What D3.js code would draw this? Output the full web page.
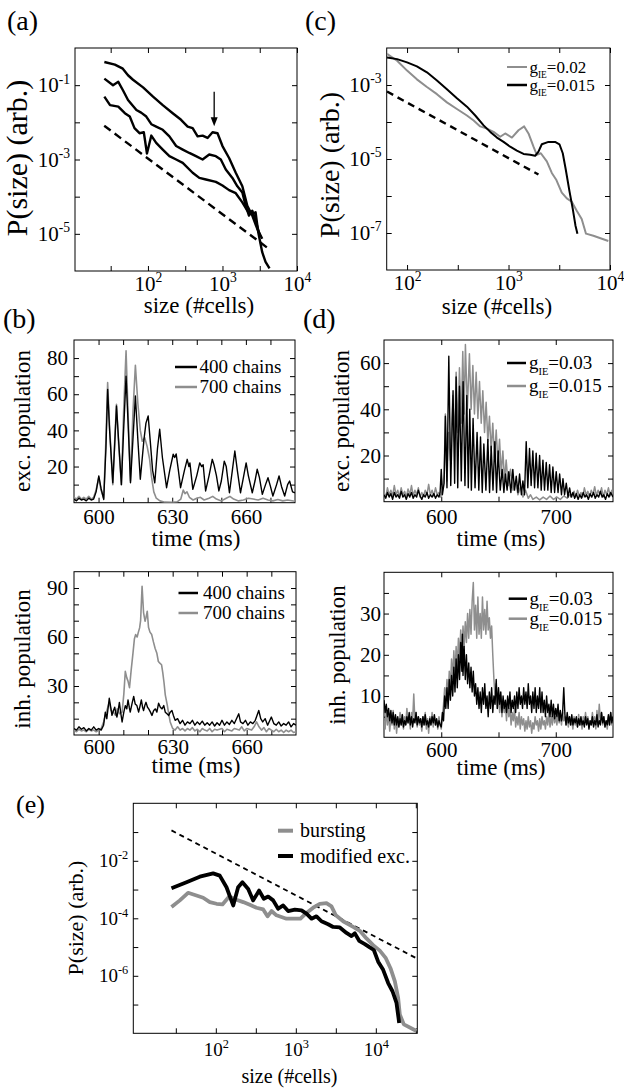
<!DOCTYPE html>
<html>
<head>
<meta charset="utf-8">
<script src="https://cdn.jsdelivr.net/npm/d3@7"></script>
<style>
  body { margin: 0; background: #fff; }
  svg { display: block; }
  svg text { font-family: "Liberation Serif", "Times New Roman", "DejaVu Serif", serif; }
</style>
</head>
<body>
<div id="fig"></div>
<script>
// ---------- data ----------
// (a) avalanche size distributions, [size, P]
var aTop = [[26,0.42],[36,0.356],[46,0.278],[54,0.185],[63,0.14],[86,0.087],[117,0.049],[158,0.029],[215,0.0176],[278,0.0117],[341,0.0077],[398,0.007],[464,0.0042],[541,0.0044],[631,0.0038],[736,0.0054],[858,0.0051],[1000,0.0023],[1227,0.0011],[1507,4.4e-4],[1848,1.9e-4],[2154,5.7e-5],[2512,3.1e-5],[2929,1.36e-5],[3415,7.4e-6]];
var aMid = [[26,0.15],[34,0.1],[40,0.123],[46,0.074],[54,0.04],[70,0.0215],[81,0.0183],[95,0.0143],[111,0.0089],[129,0.0077],[158,0.0063],[194,0.0042],[239,0.0023],[293,0.00185],[359,0.0015],[441,0.00123],[541,0.001],[664,0.00136],[815,0.00123],[950,0.001],[1108,5.4e-4],[1359,3.2e-4],[1585,1.9e-4],[1848,1.3e-4],[2047,5.7e-5],[2268,3.1e-5],[2512,4.2e-5],[2783,2.3e-5],[3083,1.1e-5],[3243,8.1e-6]];
var aBot = [[26,0.049],[31,0.029],[40,0.0264],[49,0.0176],[57,0.0143],[66,0.007],[77,0.0051],[88,0.0054],[97,0.00145],[111,0.0044],[129,0.0028],[158,0.00185],[194,0.00123],[239,0.001],[293,8.1e-4],[398,4.4e-4],[489,3.2e-4],[600,2.9e-4],[815,2.5e-4],[1000,2.0e-4],[1227,1.5e-4],[1507,1.24e-4],[1848,7e-5],[2154,4.2e-5],[2460,3.4e-5],[2783,3.8e-5],[3020,1.1e-5],[3415,3.2e-6],[3784,1.75e-6],[4276,1.17e-6]];
var aFit = [[25.9,8.07e-3],[4276,3.82e-6]];
var aArrow = [[774,0.066],[774,0.0078]];

// (c) g_IE comparison
var cG02 = [[63.5,6.95e-3],[79.8,4.53e-3],[100,2.45e-3],[125,1.42e-3],[157,8.85e-4],[197,5.65e-4],[247,3.39e-4],[310,2.25e-4],[389,1.5e-4],[453,1.1e-4],[526,7.6e-5],[612,6.6e-5],[712,5.4e-5],[828,4.0e-5],[927,4.9e-5],[1079,3.8e-5],[1254,6.0e-5],[1426,7.6e-5],[1573,4.9e-5],[1762,2.15e-5],[1900,1.3e-5],[2081,1.43e-5],[2384,8.6e-6],[2670,4.2e-6],[2942,2.8e-6],[3347,1.24e-6],[3752,8.6e-7],[4200,7e-7],[4700,4.0e-7],[5260,2.4e-7],[5800,9.6e-8],[6860,8.4e-8],[9630,6.1e-8]];
var cG015 = [[63.5,5.56e-3],[79.8,5.0e-3],[100,4.09e-3],[125,3.2e-3],[157,2.2e-3],[197,1.33e-3],[247,7.7e-4],[310,4.4e-4],[389,2.6e-4],[470,1.5e-4],[568,8.1e-5],[661,5.4e-5],[768,3.8e-5],[893,2.9e-5],[1038,2.15e-5],[1208,1.69e-5],[1406,1.37e-5],[1634,1.3e-5],[1830,1.22e-5],[1972,1.58e-5],[2128,2.5e-5],[2473,2.9e-5],[2876,2.9e-5],[3176,2.5e-5],[3423,1.43e-5],[3664,5.2e-6],[3981,1.37e-6],[4295,4.5e-7],[4564,1.6e-7],[4776,9.6e-8]];
var cFit = [[63.5,6.65e-4],[1972,3.8e-6]];

// (b) population activity, [time ms, count]
var bExc400 = [[590,2],[591,1],[592,2.5],[593,1.5],[594,2],[595,1],[596,2.5],[597,1.5],[598,2],[599,6],[600.1,14.8],[601,8],[602.1,1.8],[603,30],[603.7,62.7],[604.5,40],[605.8,11],[606.5,30],[607.3,53.5],[608,38],[609.3,10],[610.2,40],[611.2,70],[612,45],[613,11],[614,35],[615,59],[616,35],[617,13],[618.5,35],[619.3,44],[620.2,48],[621,35],[622,18],[622.9,11],[624,30],[624.9,40.6],[626,25],[627.7,8.3],[629,18],[630.4,26.8],[631,25],[631.6,27],[632.5,18],[633.4,8.3],[635,18],[636.1,24],[636.8,20],[637.2,22],[638.4,7.4],[640,15],[641.2,22],[642,20],[642.6,21],[643.6,6.5],[645,15],[646.3,24],[647,21],[648,15],[649,6.5],[650,12],[651.2,23],[652,20],[653.3,5.5],[654.5,18],[655.5,28.6],[656.5,18],[657.8,5.5],[659,14],[660.1,22],[661,15],[662.6,5.5],[663.7,12],[664.6,18.5],[665.5,14],[666.7,4.6],[668,10],[669,13.8],[670,9],[671,3.7],[672.5,10],[673.5,14.8],[674.5,9],[675.8,3.7],[677,10],[677.8,12],[679,6],[680,5.5]];
var bExc700 = [[590,3],[591,2],[592,3.5],[593,2],[594,3],[595,2],[596,3.5],[597,2],[598,3],[599,7],[600.1,13.8],[601,7],[602.1,2.5],[603,35],[603.7,66.4],[604.5,42],[605.8,10],[606.5,32],[607.3,54.4],[608,36],[609.3,10],[610.2,50],[611.2,84],[612,50],[613,12],[614,50],[615,76],[616,55],[617,40],[617.8,34],[618.8,36],[619.8,31],[620.8,24],[621.6,14],[622.5,6],[623.5,2.5],[625,1],[627,0.3],[630,0.2],[632,0.5],[633.5,2],[634.5,7],[635.2,5],[636,6],[637,3],[638.5,1.5],[640,2.5],[641.5,3],[643,1.5],[645,2.5],[646.5,3.5],[648,2],[650,1],[652,2.5],[653.5,3.5],[655,2],[657,1],[659,1.5],[661,2.5],[663,2],[665,1.5],[667,2.5],[669,1.5],[671,1],[673,1.8],[675,1],[677,1.5],[680,0.8]];
var bInh400 = [[590,4],[591,3],[592,5],[593,3.5],[594,4.5],[595,2.5],[596,4],[597,3],[598,5],[599,3],[600,4],[601,3],[602,6],[602.7,14],[603.3,10],[604.3,22.5],[605,16],[605.4,12],[606,15],[606.5,17],[607,13],[607.4,11],[608,16],[608.4,20],[609,13],[609.5,8],[610.2,14],[610.8,18],[611.4,16],[611.9,21.5],[612.4,17],[612.8,14],[613.5,19],[614.2,23.6],[614.8,19],[615.5,18],[616.2,14],[616.8,18],[617.3,21.5],[617.8,17],[618.2,15],[618.7,18],[619.2,20],[619.8,17],[620.3,16],[621,14],[621.6,12],[622.3,15],[623,16],[623.6,14],[624.3,19.5],[625,17],[625.7,16],[626.4,18],[627,14],[627.7,13],[628.4,12],[629,14],[629.7,15],[630.3,12],[631,9],[632,10],[633,7],[634,9],[635,6],[636,8],[637,7],[638,9],[639,6],[640,8],[641,6.5],[642,8.5],[643,6],[644,7.5],[645,6],[646,8],[647,5.5],[648,7.5],[649,6],[650,9],[651,6],[652,8],[653,6.5],[654,9],[655,7],[656.8,13],[657.5,8],[658.5,7],[659.5,9],[660.5,6],[661.5,8],[662.5,7],[663.5,9],[664.9,15],[665.7,10],[666.5,8],[667.5,10],[668.5,6],[670,11],[671,7],[672,6],[673,8],[674,5.5],[675,7],[676,6],[677,8],[678,5],[679,7],[680,6]];
var bInh700 = [[590,3],[591,2],[592,3.5],[593,2.5],[594,3],[595,2],[596,3.5],[597,2.5],[598,3],[599,2],[600,3],[601,4],[602,8],[602.7,12],[603.5,16],[604.3,20],[605,15],[606,14],[606.8,12],[607.5,16],[608.5,13],[609.5,14],[610.2,25],[610.8,39],[611.4,35],[611.9,33],[612.5,29],[613.2,40],[613.9,50],[614.5,59],[615,61.5],[615.6,60],[616.1,63],[616.6,65.6],[617,70],[617.6,91],[618.2,75],[618.8,69.7],[619.2,72],[619.7,75.8],[620.2,66],[620.8,63],[621.5,61.5],[622.2,57],[622.9,53],[623.6,50],[624.2,45],[624.8,44],[625.5,43],[626,38],[626.5,32],[627,24.6],[627.8,18.4],[628.5,12],[629,8],[630,4],[631,3],[632,5],[633,3],[634,4],[635,2.5],[636,4],[637,3],[638,4.5],[639,2.5],[640,3.5],[641,2],[642,4],[643,3],[644,2.5],[645,4],[646,2],[647,3.5],[648,3],[650,4],[651,2],[652,3.5],[654,2.5],[655,4],[657,3],[658,5],[659,2.5],[660,4],[662,3],[663,5],[664,8],[665,5],[666,3],[667,4.5],[668,2],[669,4],[670,3],[671,2],[672,3.5],[673,2],[674,3],[675,1.5],[676,3],[677,2],[678,3],[679,1.5],[680,2]];

// (d) population activity for two g_IE values
var dExc03 = [[550,3],[551.5,1.5],[553,4],[554.5,2],[556,3.5],[557.5,1],[559,4],[560.5,2],[562,3],[563.5,1.5],[565,4.5],[566.5,2],[568,3],[569.5,1],[571,3.5],[572.5,2],[574,4],[575.5,1.5],[577,3],[578.5,2],[580,5],[581.5,2.5],[583,1],[584.5,3],[586,2],[587.5,4],[589,1.5],[590.5,3],[592,2],[593.5,3.5],[595,1.5],[596.5,3],[598,2],[599,4],[600,14],[601,3],[602.5,8],[603.6,37],[605,6],[606.6,63],[608.3,7],[610.3,48],[611.7,8],[613,54],[614.4,6],[615.9,50],[617.5,9],[619.1,52],[620.7,7],[622.3,46],[623.6,6],[624.9,40],[626.3,5],[627.8,36],[629.5,6],[631.3,30],[632.8,5],[634.3,28],[635.8,4],[637.2,25],[639,5],[640.7,27],[642.2,4],[643.6,24],[645.2,5],[646.8,26],[648.3,4],[649.7,22],[651.5,5],[653.2,14],[654.7,4],[656.1,12],[657.5,5],[659,13],[660.8,4],[662.5,14],[664,5],[665.5,11],[667,4],[668.4,12],[670,3],[671.3,9],[672.7,3],[674.2,26],[675.6,6],[677.1,23],[678.5,7],[680,22],[681.5,6],[682.9,21],[684.4,6],[685.9,20],[687.3,5],[688.8,18],[690.2,5],[691.7,17],[693.1,5],[694.6,16],[696,4],[697.5,15],[699,4],[700.4,13],[702,4],[703.4,12],[705,3],[706.3,10],[707.7,3],[709.2,8],[710.7,2],[712.1,6],[713.5,2],[715,4],[716.5,1.5],[718,3.5],[719.5,1],[721,3],[722.5,1.5],[724,4],[725.5,2],[727,3],[728.5,1],[730,3.5],[731.5,2],[733,4],[734.5,1.5],[736,3],[737.5,2],[739,4.5],[740.5,2],[742,3],[743.5,1],[745,3.5],[746.5,2],[748,4],[750,2]];
var dExc015 = [[550,4],[551.5,2],[553,6],[554.5,3],[556,5],[557.5,2.5],[559,7],[560.5,3],[562,5],[563.5,2],[565,6],[566.5,3],[568,4.5],[569.5,2],[571,5.5],[572.5,3],[574,7],[575.5,2.5],[577,5],[578.5,3],[580,6],[581.5,2],[583,4],[584.5,2.5],[586,5],[587.5,3],[589,7.5],[590.5,3],[592,5],[593.5,2.5],[595,6],[596.5,3],[598,4],[599.5,2],[601,5],[602.5,12],[603.6,38],[605,9],[606.5,30],[608,18],[610.1,46],[611.5,26],[613,56],[614.5,30],[615.9,58],[617.4,34],[618.8,65],[620,38],[621.1,68],[622.8,40],[624.6,64],[626.1,40],[627.6,59],[629,38],[630.5,56],[632,36],[633.4,52],[634.9,34],[636.3,48],[637.8,30],[639.2,43],[640.7,26],[642.1,37],[643.6,22],[645,34],[646.5,19],[648,31],[649.5,16],[650.9,27],[652.4,12],[653.8,22],[655.3,9],[656.7,18],[658.5,7],[660.5,14],[662.7,5],[664.9,9],[667,3],[669.2,6.5],[671.4,2],[673.6,5],[676,1.5],[678,3],[680,1],[683,2],[686,0.8],[689,2],[692,1],[695,2.5],[698,1],[701,2],[704,1],[707,2.5],[710,1.5],[712,3],[714,2],[716,4.5],[717.5,2],[719,5],[720.5,2.5],[722,4],[723.5,2],[725,6],[726.5,3],[728,4.5],[729.5,2],[731,5],[732.5,3],[734,6.5],[735.5,2.5],[737,5],[738.5,3],[740,6],[741.5,2],[743,5],[744.5,3],[746,6],[747.5,2.5],[749,5],[750,3]];
var dInh03 = [[550,9],[551,6],[552,8],[553,5],[554,7],[555,4],[556,6.5],[557,3.5],[558,6],[559,3],[560,5.5],[561,3],[562,5],[563,2.5],[564,4.5],[565,3],[566,5.5],[567,2.5],[568,4],[569,3],[570,5],[571,3.5],[572,6],[573,3],[574,5],[575,2.5],[576,4.5],[577,3.5],[578,6],[579,3],[580,5],[581,3.5],[582,4.5],[583,2.5],[584,5],[585,3],[586,5.5],[587,3],[588,4],[589,2.5],[590,4.5],[591,3],[592,5],[593,3.5],[594,5.5],[595,3],[596,4.5],[597,2.5],[598,4],[599,3],[600,2.5],[601,6],[602,4],[603,10],[604,7],[605,12],[606,7],[607,14],[608,9],[609,15],[610,10],[611,17],[612,11],[613,19],[614,12],[615,20],[616,14],[617,23],[618,16],[618.5,25],[619,15],[620,22],[621,14],[622,20],[623,13],[624,18],[625,12],[626,17],[627,11],[628,16],[629,10],[630,13],[631,8],[632,12],[633,7],[634,11],[635,6],[636,12],[637,8],[638,13],[639,7],[640,10],[641,5],[642,11],[643,7],[644,12],[645,6],[646,10],[647,8],[648,14],[649,7],[650,12],[651,8],[652,11],[653,6],[654,10],[655,7],[656,9],[657,6],[658,10],[659,7],[660,11],[661,6],[662,9],[663,7],[664,10],[665,6],[666,11],[667,7],[668,12],[669,8],[670,10],[671,7],[672,12],[673,8],[674,11],[675,7],[676,13],[677,8],[678,10],[679,6],[680,11],[681,7],[682,12],[683,6],[684,10],[685,7],[686,12],[687,6],[688,11],[689,6],[690,9],[691,5],[692,10],[693,6],[694,8],[695,5],[696,9],[697,5],[698,8],[699,4.5],[700,7],[701,5],[702,8],[703,4],[704,6.5],[705,4],[706,6],[707,12],[708,5.5],[709,3],[710,6],[711,3.5],[712,5],[713,3],[714,5.5],[715,3],[716,4.5],[717,3.5],[718,5],[719,2.5],[720,4.5],[721,3],[722,5],[723,3],[724,4],[725,2.5],[726,5],[727,3],[728,4.5],[729,2],[730,4],[731,3],[732,5],[733,2.5],[734,4],[735,3],[736,5.5],[737,2.5],[738,4],[739,3],[740,6],[741,3.5],[742,5],[743,2.5],[744,4],[745,3],[746,5.5],[747,3],[748,6],[749,3.5],[750,5]];
var dInh015 = [[550,4],[551,2],[552,7],[553,3],[554,6],[555,1.5],[556,5],[557,3],[558,6.5],[559,2],[560,5],[561,1],[562,4.5],[563,2.5],[564,6],[565,3],[566,5.5],[567,2],[568,5],[569,3],[570,7],[571,3.5],[572,5],[573,2],[574,6],[575,4],[576,10.5],[577,4],[578,6],[579,2.5],[580,5],[581,3],[582,4.5],[583,1.5],[584,5],[585,3],[586,6],[587,2],[588,4.5],[589,1],[590,5],[591,3],[592,6],[593,2.5],[594,5],[595,3],[596,4],[597,2],[598,5],[599,3],[600,2],[601,5],[602,8],[603,12],[604,9],[605,14],[606,10],[607,16],[608,12],[609,19],[610,14],[611,21],[612,15],[613,22],[614,17],[615,24],[616,19],[617,26],[618,20],[619,27],[620,22],[621,28],[622,23],[623,30],[624,24],[625,31],[626,25],[627,33],[628,37.5],[629,26],[630,32],[631,24],[632,34],[633,25],[634,30],[635,24],[636,34],[637,26],[638,31],[639,25],[640,33],[641,26],[642,29],[643,24],[644,27],[645,20],[646,14],[647,10],[648,13],[649,7],[650,11],[651,6],[652,10],[653,5],[654,9],[655,6],[656,8],[657,4],[658,9],[659,5],[660,7],[661,3],[662,6],[663,4],[664,7],[665,2.5],[666,5],[667,3],[668,6],[669,2],[670,5],[671,3],[672,4.5],[673,1.5],[674,4],[675,2],[676,5],[677,2.5],[678,4],[679,1],[680,3.5],[681,2],[682,5],[683,3],[684,4],[685,1.5],[686,4.5],[687,2],[688,5],[689,3],[690,4],[691,2],[692,5],[693,3],[694,6],[695,2.5],[696,5],[697,3],[698,6],[699,3.5],[700,5],[701,3],[702,6],[703,3.5],[704,5.5],[705,3],[706,6],[707,4],[708,5],[709,3],[710,4.5],[711,2.5],[712,5],[713,3],[714,4],[715,2],[716,5],[717,3],[718,4.5],[719,2.5],[720,5.5],[721,3],[722,4],[723,2],[724,5],[725,3],[726,6],[727,3.5],[728,5],[729,2.5],[730,4],[731,3],[732,6],[733,3],[734,5],[735,2],[736,6.5],[737,3],[738,8],[739,4],[740,6],[741,3],[742,5],[743,2.5],[744,4],[745,2],[746,5],[747,3],[748,6],[749,3],[750,4]];

// (e) bursting vs modified excitability
var eBurst = [[27.9,2.46e-4],[35.5,4.2e-4],[45,7.7e-4],[57.3,6.2e-4],[69.5,5.2e-4],[84.1,3.66e-4],[102,3.2e-4],[121,3.04e-4],[147,5.7e-4],[181,4.4e-4],[220,3.66e-4],[266,2.96e-4],[322,2.33e-4],[391,2.04e-4],[443,1.17e-4],[497,1.79e-4],[573,1.27e-4],[764,9.7e-5],[972,9.7e-5],[1143,9.7e-5],[1359,1.53e-4],[1648,2.33e-4],[1995,3.2e-4],[2415,3.38e-4],[2790,2.6e-4],[3162,1.27e-4],[3908,7.9e-5],[5210,5.0e-5],[6310,3.66e-5],[7640,1.99e-5],[9260,1.17e-5],[11220,7.5e-6],[13340,4.1e-6],[15250,1.84e-6],[17300,6.4e-7],[19010,1.7e-7],[19950,4.5e-8],[22390,2.04e-8],[32230,1.2e-8]];
var eModExc = [[27.9,1.11e-3],[43,1.79e-3],[63,2.8e-3],[92.6,3.66e-3],[112,3.04e-3],[136,1.2e-3],[165,2.8e-4],[190,1.2e-3],[215,1.79e-3],[254,1.05e-3],[293,4.2e-4],[348,9.2e-4],[398,4.8e-4],[451,5.7e-4],[521,4.2e-4],[601,2.15e-4],[695,2.8e-4],[802,1.79e-4],[972,1.99e-4],[1178,1.89e-4],[1359,1.45e-4],[1570,9.7e-5],[1812,1.17e-4],[2093,7.9e-5],[2536,6.2e-5],[2929,5.0e-5],[3548,4.8e-5],[4300,3.1e-5],[4966,2.4e-5],[5470,3.0e-5],[6194,1.65e-5],[7290,1.27e-5],[8410,9.7e-6],[9440,7.9e-6],[10700,3.1e-6],[12350,1.61e-6],[14270,5.6e-7],[16160,2.9e-7],[18130,1.14e-7],[19590,2.3e-8]];
var eFit = [[27.9,0.114],[32230,4.07e-6]];

// ---------- drawing ----------
var GRAY = "#8e8e8e";

var svg = d3.select("#fig").append("svg")
    .attr("width", 624).attr("height", 1088);
svg.append("rect").attr("width", 624).attr("height", 1088).attr("fill", "#fff");

var clipN = 0;

function pow10(sel, fs) {
  sel.selectAll(".tick text").each(function(d) {
    var t = d3.select(this);
    t.text("10");
    t.append("tspan").attr("font-size", fs * 0.65).attr("dy", -fs * 0.42)
      .text(Math.round(Math.log10(d)));
  });
}

// one boxed panel with inward ticks on every side
function panel(o) {
  var x = (o.xlog ? d3.scaleLog() : d3.scaleLinear()).domain(o.xd).range([o.l, o.r]);
  var y = (o.ylog ? d3.scaleLog() : d3.scaleLinear()).domain(o.yd).range([o.b, o.t]);
  var g = svg.append("g");
  var id = "clip" + (clipN++);
  svg.append("clipPath").attr("id", id).append("rect")
    .attr("x", o.l).attr("y", o.t).attr("width", o.r - o.l).attr("height", o.b - o.t);

  function ticks(axis, tr) {
    g.append("g").attr("transform", tr)
      .call(axis.tickSize(-5).tickFormat(""))
      .call(function(a) { a.select(".domain").remove(); });
  }
  ticks(d3.axisBottom(x).tickValues(o.xt), "translate(0," + o.b + ")");
  ticks(d3.axisTop(x).tickValues(o.xt), "translate(0," + o.t + ")");
  ticks(d3.axisLeft(y).tickValues(o.yt), "translate(" + o.l + ",0)");
  ticks(d3.axisRight(y).tickValues(o.yt), "translate(" + o.r + ",0)");

  var xl = g.append("g").attr("transform", "translate(0," + o.b + ")")
    .call(d3.axisBottom(x).tickValues(o.xl).tickSize(0).tickPadding(o.xpad)
      .tickFormat(o.xlog ? "" : d3.format("d")));
  var yl = g.append("g").attr("transform", "translate(" + o.l + ",0)")
    .call(d3.axisLeft(y).tickValues(o.yl).tickSize(0).tickPadding(o.ypad)
      .tickFormat(o.ylog ? "" : d3.format("d")));
  [xl, yl].forEach(function(a) {
    a.attr("font-size", o.fs);
    a.select(".domain").remove();
    a.selectAll("text").attr("fill", "#000");
  });
  if (o.xlog) pow10(xl, o.fs);
  if (o.ylog) pow10(yl, o.fs);

  g.append("rect").attr("x", o.l).attr("y", o.t)
    .attr("width", o.r - o.l).attr("height", o.b - o.t)
    .attr("fill", "none").attr("stroke", "#000").attr("stroke-width", 1);

  var plot = svg.append("g").attr("clip-path", "url(#" + id + ")");
  return {x: x, y: y, g: g, plot: plot};
}

function line(p, data, color, w, dash) {
  p.plot.append("path").datum(data)
    .attr("d", d3.line().x(function(d) { return p.x(d[0]); }).y(function(d) { return p.y(d[1]); }))
    .attr("fill", "none").attr("stroke", color).attr("stroke-width", w)
    .attr("stroke-linejoin", "round")
    .attr("stroke-dasharray", dash || null);
}

function label(txt, x, y, fs, rot) {
  var t = svg.append("text").attr("font-size", fs).attr("text-anchor", "middle").text(txt);
  if (rot) t.attr("transform", "translate(" + x + "," + y + ") rotate(-90)");
  else t.attr("x", x).attr("y", y);
  return t;
}

// legend entry: short line + text (g_IE gets a subscript)
function legend(x0, x1, tx, y, color, w, fs, txt, gie) {
  svg.append("line").attr("x1", x0).attr("x2", x1).attr("y1", y).attr("y2", y)
    .attr("stroke", color).attr("stroke-width", w);
  var t = svg.append("text").attr("x", tx).attr("y", y + fs * 0.33).attr("font-size", fs);
  if (gie) {
    t.append("tspan").text("g");
    t.append("tspan").attr("font-size", fs * 0.55).attr("dy", fs * 0.3).text("IE");
    t.append("tspan").attr("font-size", fs).attr("dy", -fs * 0.3).text("=" + txt);
  } else {
    t.text(txt);
  }
}

function logs(a, b, step) {
  var v = [];
  for (var e = a; e <= b + 1e-9; e += step) v.push(Math.pow(10, e));
  return v;
}

// ----- (a) -----
var pa = panel({l: 75, r: 297, t: 48, b: 271, xlog: true, ylog: true,
  xd: [10.5, 10000], yd: [1e-6, 1],
  xt: logs(1.5, 4, 0.5), xl: [1e2, 1e3, 1e4],
  yt: logs(-5, -1, 1), yl: [1e-5, 1e-3, 1e-1],
  fs: 21, xpad: 5, ypad: 5});
[aTop, aMid, aBot].forEach(function(s) { line(pa, s, "#000", 2.4); });
line(pa, aFit, "#000", 2.4, "8,5");
(function() {
  var x0 = pa.x(aArrow[0][0]), y0 = pa.y(aArrow[0][1]), y1 = pa.y(aArrow[1][1]);
  svg.append("line").attr("x1", x0).attr("x2", x0).attr("y1", y0).attr("y2", y1 - 6)
    .attr("stroke", "#000").attr("stroke-width", 1.3);
  svg.append("path").attr("d", "M" + (x0 - 3.5) + "," + (y1 - 9) + "L" + x0 + "," + y1 + "L" + (x0 + 3.5) + "," + (y1 - 9) + "Z")
    .attr("fill", "#000");
})();
label("P(size) (arb.)", 26.5, 158, 30, true);
label("size (#cells)", 199, 313, 23);
svg.append("text").attr("x", 7).attr("y", 30).attr("font-size", 28).text("(a)");

// ----- (c) -----
var pc = panel({l: 386.7, r: 610, t: 48, b: 270, xlog: true, ylog: true,
  xd: [63, 10000], yd: [1e-8, 1e-2],
  xt: logs(2, 4, 0.5), xl: [1e2, 1e3, 1e4],
  yt: logs(-7, -3, 1), yl: [1e-7, 1e-5, 1e-3],
  fs: 21, xpad: 5, ypad: 5});
line(pc, cG02, GRAY, 2);
line(pc, cG015, "#000", 2);
line(pc, cFit, "#000", 2.4, "7,5");
legend(507, 527, 529.5, 67, GRAY, 2, 17, "0.02", true);
legend(507, 527, 529.5, 85, "#000", 2.5, 17, "0.015", true);
label("P(size) (arb.)", 338.5, 165, 28, true);
label("size (#cells)", 497, 314, 23);
svg.append("text").attr("x", 305).attr("y", 30).attr("font-size", 28).text("(c)");

// ----- (b) excitatory -----
var pbE = panel({l: 74, r: 295, t: 340, b: 502.7, xd: [590, 680], yd: [0, 90],
  xt: d3.range(600, 680, 10), xl: [600, 630, 660],
  yt: d3.range(10, 90, 10), yl: [20, 40, 60, 80],
  fs: 21, xpad: 6, ypad: 6});
line(pbE, bExc700, GRAY, 1.6);
line(pbE, bExc400, "#000", 1.4);
legend(175, 197, 199.5, 367, "#000", 2.5, 19, "400 chains");
legend(175, 197, 199.5, 387, GRAY, 2.5, 19, "700 chains");
label("exc. population", 30, 421, 23, true);
label("time (ms)", 196, 546, 23);
svg.append("text").attr("x", 3).attr("y", 328).attr("font-size", 28).text("(b)");

// ----- (b) inhibitory -----
var pbI = panel({l: 74, r: 296, t: 571.7, b: 735, xd: [590, 680], yd: [0, 100],
  xt: d3.range(600, 680, 10), xl: [600, 630, 660],
  yt: d3.range(10, 100, 10), yl: [30, 60, 90],
  fs: 21, xpad: 4, ypad: 6});
line(pbI, bInh700, GRAY, 1.6);
line(pbI, bInh400, "#000", 1.4);
legend(178.5, 198, 203, 593, "#000", 2.5, 19, "400 chains");
legend(178.5, 198, 203, 613, GRAY, 2.5, 19, "700 chains");
label("inh. population", 30, 659, 23, true);
label("time (ms)", 196, 773, 23);

// ----- (d) excitatory -----
var pdE = panel({l: 384, r: 613, t: 340, b: 501.7, xd: [550, 750], yd: [0, 70],
  xt: [600, 650, 700], xl: [600, 700],
  yt: d3.range(10, 70, 10), yl: [20, 40, 60],
  fs: 21, xpad: 7, ypad: 3});
line(pdE, dExc015, GRAY, 1.5);
line(pdE, dExc03, "#000", 1.4);
legend(507, 526, 529, 363, "#000", 2.5, 19, "0.03", true);
legend(507, 526, 529, 386, GRAY, 2.5, 19, "0.015", true);
label("exc. population", 348.5, 421, 23, true);
label("time (ms)", 501, 546, 23);
svg.append("text").attr("x", 303).attr("y", 328).attr("font-size", 28).text("(d)");

// ----- (d) inhibitory -----
var pdI = panel({l: 384, r: 613, t: 572.3, b: 737.3, xd: [550, 750], yd: [0, 40],
  xt: [600, 650, 700], xl: [600, 700],
  yt: d3.range(5, 40, 5), yl: [10, 20, 30],
  fs: 21, xpad: 5, ypad: 3});
line(pdI, dInh015, GRAY, 1.5);
line(pdI, dInh03, "#000", 1.4);
legend(508.7, 527, 529.5, 598.7, "#000", 2.5, 19, "0.03", true);
legend(508.7, 527, 529.5, 618.7, GRAY, 2.5, 19, "0.015", true);
label("inh. population", 345, 655, 23, true);
label("time (ms)", 501, 775, 23);

// ----- (e) -----
var pe = panel({l: 133.3, r: 417.3, t: 803.3, b: 1033.3, xlog: true, ylog: true,
  xd: [9.3, 33000], yd: [1e-8, 1],
  xt: logs(1.5, 4.5, 0.5), xl: [1e2, 1e3, 1e4],
  yt: logs(-7, -1, 1), yl: [1e-6, 1e-4, 1e-2],
  fs: 19, xpad: 9, ypad: 5});
line(pe, eFit, "#000", 1.8, "5,4");
line(pe, eBurst, GRAY, 3.8);
line(pe, eModExc, "#000", 3.8);
legend(278, 293, 300, 830.7, GRAY, 4, 20, "bursting");
legend(278, 293, 300, 856, "#000", 4, 20, "modified exc.");
label("P(size) (arb.)", 83, 918, 22, true);
label("size (#cells)", 289.5, 1083, 20);
svg.append("text").attr("x", 16).attr("y", 813).attr("font-size", 26).text("(e)");
</script>
</body>
</html>
